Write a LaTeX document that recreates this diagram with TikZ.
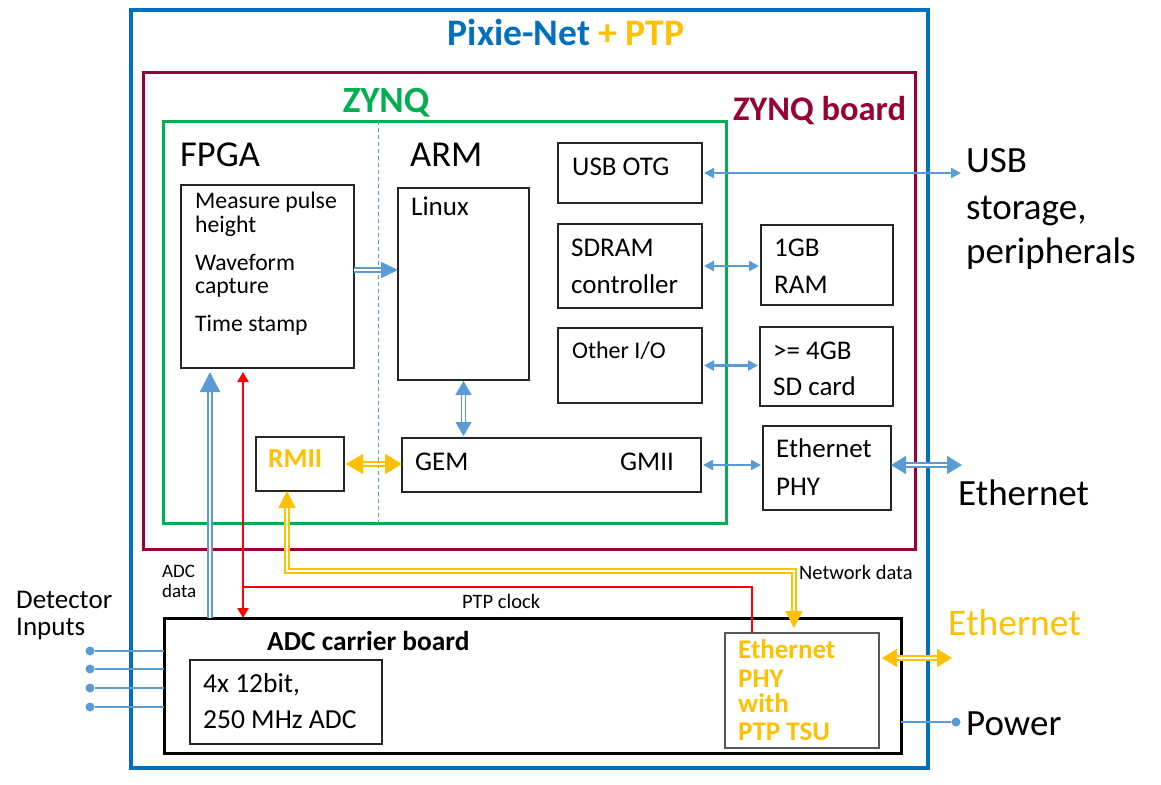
\documentclass[tikz,border=0pt]{standalone}
\usepackage{fontspec}
\setmainfont{Carlito}
\usetikzlibrary{arrows.meta,fit}
\definecolor{pblue}{RGB}{0,112,192}
\definecolor{lblue}{RGB}{91,155,213}
\definecolor{orng}{RGB}{255,192,0}
\definecolor{zgreen}{RGB}{0,176,80}
\definecolor{zmaroon}{RGB}{153,0,51}
\newcommand\fsz[1]{\fontsize{#1}{#1}\selectfont}
\begin{document}
\begin{tikzpicture}[x=1pt,y=-1pt,
  bx/.style={draw=black!85, line width=1.4pt, inner sep=0pt, outer sep=0pt},
  frame/.style={inner sep=0pt, outer sep=0pt},
  t/.style={inner sep=0pt, anchor=base west},
  la/.style={draw=lblue, line width=2.4pt, {Triangle[length=10pt,width=10pt]}-{Triangle[length=10pt,width=10pt]}, shorten <=2pt, shorten >=2pt},
  dblb/.style={draw=lblue, line width=1.5pt, double=white, double distance=2.2pt},
  dblo/.style={draw=orng, line width=1.5pt, double=white, double distance=2.2pt},
  dot/.style={circle, fill=lblue, inner sep=0pt, minimum size=9pt},
  clk/.style={draw=red, line width=2.6pt}
]
\useasboundingbox (0,0) rectangle (1161,784);

% frames
\node[frame, draw=pblue, line width=4pt, fit={(131,10)(928,768)}] (outer) {};
\node[frame, draw=zmaroon, line width=3pt, fit={(143,72)(915,549)}] (zboard) {};
\node[frame, draw=zgreen, line width=3pt, fit={(163,121)(726,523)}] (zynq) {};
\coordinate (xdash) at (378,0);
\draw[lblue, line width=1pt, dash pattern=on 4pt off 3pt] (zynq.north -| xdash) -- (zynq.south -| xdash);

% boxes
\node[bx, fit={(181,185)(354,368)}] (fpga) {};
\node[bx, fit={(398,188)(529,380)}] (linux) {};
\node[bx, fit={(558,143)(702,203)}] (usbotg) {};
\node[bx, fit={(558,224)(702,308)}] (sdram) {};
\node[bx, fit={(558,328)(702,403)}] (otherio) {};
\node[bx, fit={(761,225)(893,305)}] (ram) {};
\node[bx, fit={(760,327)(893,406)}] (sdcard) {};
\node[bx, fit={(256,437)(344,491)}] (rmii) {};
\node[bx, fit={(402,438)(701,492)}] (gem) {};
\node[bx, fit={(763,426)(891,510)}] (ephy) {};
\node[bx, draw=black, line width=3pt, fit={(164,618)(901,753)}] (adcb) {};
\node[bx, fit={(190,660)(382,744)}] (adc) {};
\node[bx, draw=black!65, line width=1.2pt, fit={(725,633)(879,748)}] (ptpphy) {};

% titles
\node[inner sep=0pt, anchor=base, font=\fsz{37.5}\bfseries] (title) at (566,46) {\textcolor{pblue}{Pixie-Net}\ \textcolor{orng}{+\ PTP}};
\node[inner sep=0pt, anchor=base, font=\fsz{37}\bfseries, text=zgreen] (zynqlbl) at (386,112) {ZYNQ};
\node[t, font=\fsz{34.5}\bfseries, text=zmaroon] (zboardlbl) at (733,120) {ZYNQ board};
\node[t, font=\fsz{36.5}] (fpgalbl) at (180,166) {FPGA};
\node[t, font=\fsz{36.5}] (armlbl) at (410,166) {ARM};

% box texts
\node[t, font=\fsz{23.7}] (m1) at (195,208) {Measure pulse};
\node[t, font=\fsz{23.7}] (m2) at (195,232) {height};
\node[t, font=\fsz{23.7}] (m3) at (195,270) {Waveform};
\node[t, font=\fsz{23.7}] (m4) at (195,293) {capture};
\node[t, font=\fsz{23.7}] (m5) at (195,331) {Time stamp};
\node[t, font=\fsz{27}] (linuxt) at (411,215) {Linux};
\node[t, font=\fsz{27}] (usbotgt) at (572,175) {USB OTG};
\node[t, font=\fsz{27}] (sdramt1) at (571,256) {SDRAM};
\node[t, font=\fsz{27}] (sdramt2) at (571,293) {controller};
\node[t, font=\fsz{27}] (ramt1) at (774,256) {1GB};
\node[t, font=\fsz{27}] (ramt2) at (774,293) {RAM};
\node[t, font=\fsz{24}] (otheriot) at (572,358) {Other I/O};
\node[t, font=\fsz{27}] (sdt1) at (773,359) {>= 4GB};
\node[t, font=\fsz{27}] (sdt2) at (773,395) {SD card};
\node[t, font=\fsz{27}] (gemt) at (415,470) {GEM};
\node[t, font=\fsz{27}] (gmiit) at (620,470) {GMII};
\node[t, font=\fsz{27.4}\bfseries, text=orng] (rmiit) at (268,467) {RMII};
\node[t, font=\fsz{27}] (ephyt1) at (776,457) {Ethernet};
\node[t, font=\fsz{27}] (ephyt2) at (776,495) {PHY};
\node[t, font=\fsz{27.4}\bfseries] (adcbt) at (267,650) {ADC carrier board};
\node[t, font=\fsz{27.5}] (adct1) at (203,692) {4x 12bit,};
\node[t, font=\fsz{27.5}] (adct2) at (203,728) {250 MHz ADC};
\node[t, font=\fsz{27}\bfseries, text=orng] (ptpt1) at (738,658) {Ethernet};
\node[t, font=\fsz{27}\bfseries, text=orng] (ptpt2) at (738,687) {PHY};
\node[t, font=\fsz{27}\bfseries, text=orng] (ptpt3) at (738,712) {with};
\node[t, font=\fsz{27}\bfseries, text=orng] (ptpt4) at (738,740) {PTP TSU};

% outside labels
\node[t, font=\fsz{37}] (usbl1) at (966,172) {USB};
\node[t, font=\fsz{37}] (usbl2) at (966,219) {storage,};
\node[t, font=\fsz{37}] (usbl3) at (966,263) {peripherals};
\node[t, font=\fsz{37}] (ethl) at (958,505) {Ethernet};
\node[t, font=\fsz{37.5}, text=orng] (ethol) at (948,635) {Ethernet};
\node[t, font=\fsz{37}] (pwrl) at (966,735) {Power};
\node[t, font=\fsz{27}] (detl1) at (16,608) {Detector};
\node[t, font=\fsz{27}] (detl2) at (16,635) {Inputs};
\node[t, font=\fsz{19}] (adcdl1) at (162,577) {ADC};
\node[t, font=\fsz{19}] (adcdl2) at (162,597) {data};
\node[t, font=\fsz{20.5}] (clkl) at (462,608) {PTP clock};
\node[t, font=\fsz{20.5}] (netl) at (799,579) {Network data};

% coordinates for free ends / bends
\coordinate (usbend) at (963,172);
\coordinate (ethend) at (962,465);
\coordinate (ethoend) at (952,658);
\coordinate (yfl) at (0,270);
\coordinate (yeth) at (0,658);
\coordinate (xadc) at (210,0);
\coordinate (xclk) at (243,0);
\coordinate (clkj) at (243,587);
\coordinate (xclk2) at (752,0);
\coordinate (netA) at (287,571);
\coordinate (netB) at (794,571);

% single blue connectors
\draw[la] (usbotg.east) -- (usbotg.east -| usbend);
\draw[la] (sdram.east) -- (sdram.east -| ram.west);
\draw[la] (otherio.east) -- (otherio.east -| sdcard.west);
\draw[la] (gem.east) -- (gem.east -| ephy.west);

% double blue connectors
\draw[dblb, {Triangle[length=15pt,width=18pt]}-{Triangle[length=15pt,width=18pt]}] (ephy.east |- gem.east) -- (ethend);
\draw[dblb, -{Triangle[length=17pt,width=16pt]}] (fpga.east |- yfl) -- (linux.west |- yfl);
\draw[dblb, {Triangle[length=14pt,width=16pt]}-{Triangle[length=14pt,width=16pt]}, shorten <=1pt, shorten >=2pt] (linux.south) -- (linux.south |- gem.north);
\draw[dblb, -{Triangle[length=20pt,width=20pt]}, shorten >=4pt] (adcb.north -| xadc) -- (fpga.south -| xadc);

% PTP clock
\draw[clk, {Triangle[length=10pt,width=11pt]}-{Triangle[length=10pt,width=11pt]}, shorten <=4pt] (fpga.south -| xclk) -- (adcb.north -| xclk);
\draw[clk] (clkj) -- (clkj -| xclk2) -- (ptpphy.north -| xclk2);

% orange double connectors
\draw[dblo, {Triangle[length=17pt,width=20pt]}-{Triangle[length=17pt,width=20pt]}, shorten <=2pt] (rmii.east) -- (rmii.east -| gem.west);
\draw[dblo, {Triangle[length=17pt,width=17pt]}-{Triangle[length=17pt,width=17pt]}, shorten >=5pt] (rmii.south -| netA) -- (netA) -- (netB) -- (ptpphy.north -| netB);
\draw[dblo, {Triangle[length=15pt,width=18pt]}-{Triangle[length=15pt,width=18pt]}, shorten <=3pt] (ptpphy.east |- yeth) -- (ethoend);

% power and detector inputs
\node[dot] (pwr) at (956,722) {};
\draw[lblue, line width=2.4pt] (adcb.east |- pwr) -- (pwr);
\foreach \i/\yy in {1/651,2/669,3/688,4/707}{
  \node[dot] (in\i) at (90,\yy) {};
  \draw[lblue, line width=1.5pt] (in\i) -- (in\i -| adcb.west);
}
\end{tikzpicture}
\end{document}
